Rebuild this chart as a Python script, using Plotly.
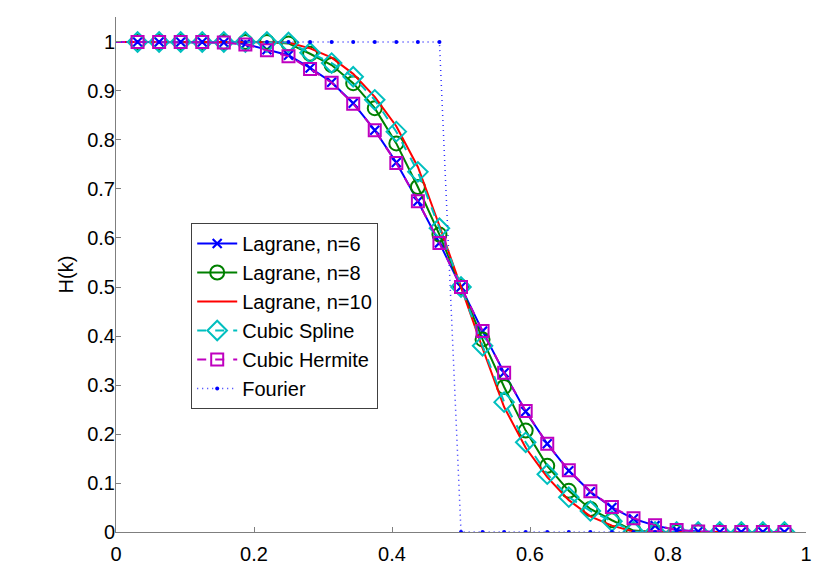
import plotly.graph_objects as go

# sample positions k/32, k = 0..31
x = [k / 32 for k in range(32)]

lag6 = [1, 1, 1, 1, 1, 0.999, 0.996, 0.984, 0.973, 0.947, 0.918, 0.875, 0.820, 0.754, 0.675, 0.590,
        0.500, 0.410, 0.325, 0.246, 0.180, 0.125, 0.082, 0.050, 0.027, 0.013, 0.004, 0.001, 0, 0, 0, 0]
lag8 = [1, 1, 1, 1, 1, 1, 1, 1, 0.997, 0.976, 0.953, 0.916, 0.865, 0.793, 0.704, 0.607,
        0.500, 0.393, 0.296, 0.207, 0.135, 0.084, 0.047, 0.024, 0.003, 0, 0, 0, 0, 0, 0, 0]
lag10 = [1, 1, 1, 1, 1, 1, 1, 1, 0.999, 0.987, 0.968, 0.935, 0.888, 0.828, 0.745, 0.625,
         0.500, 0.375, 0.255, 0.172, 0.112, 0.065, 0.032, 0.013, 0.001, 0, 0, 0, 0, 0, 0, 0]
spline = [1, 1, 1, 1, 1, 1, 1, 1, 0.999, 0.978, 0.957, 0.929, 0.882, 0.817, 0.735, 0.620,
          0.500, 0.380, 0.265, 0.183, 0.118, 0.071, 0.043, 0.022, 0.001, 0, 0, 0, 0, 0, 0, 0]
hermite = [1, 1, 1, 1, 1, 0.999, 0.995, 0.983, 0.971, 0.945, 0.917, 0.874, 0.820, 0.753, 0.675, 0.590,
           0.500, 0.410, 0.325, 0.247, 0.180, 0.126, 0.083, 0.051, 0.028, 0.014, 0.004, 0.001, 0, 0, 0, 0]
fourier = [1] * 16 + [0] * 16

names = ["Lagrane, n=6", "Lagrane, n=8", "Lagrane, n=10", "Cubic Spline", "Cubic Hermite", "Fourier"]
series = [lag6, lag8, lag10, spline, hermite, fourier]

xticks = [0, 0.2, 0.4, 0.6, 0.8, 1]
xticktext = ["0", "0.2", "0.4", "0.6", "0.8", "1"]
yticks = [i / 10 for i in range(11)]
yticktext = ["0"] + ["0.%d" % i for i in range(1, 10)] + ["1"]

styles = [
    dict(color="#0000FF", dash="solid", width=2, mode="lines+markers",
         marker=dict(symbol="x-thin-open", size=9, line=dict(width=2.2, color="#0000FF"))),
    dict(color="#008000", dash="solid", width=2, mode="lines+markers",
         marker=dict(symbol="circle-open", size=14, line=dict(width=2, color="#008000"))),
    dict(color="#FF0000", dash="solid", width=2, mode="lines", marker=None),
    dict(color="#00BFBF", dash="dash", width=2, mode="lines+markers",
         marker=dict(symbol="diamond-open", size=15, line=dict(width=2, color="#00BFBF"))),
    dict(color="#BF00BF", dash="dash", width=2, mode="lines+markers",
         marker=dict(symbol="square-open", size=12, line=dict(width=2, color="#BF00BF"))),
    dict(color="#3030FF", dash="1px,4px", width=1.5, mode="lines+markers",
         marker=dict(symbol="circle", size=4, color="#0000FF")),
]

fig = go.Figure()
for name, y, st in zip(names, series, styles):
    line = dict(color=st["color"], dash=st["dash"], width=st["width"])
    # segment from x=0 (drawn without marker)
    fig.add_trace(go.Scatter(x=x[:2], y=y[:2], mode="lines", line=line,
                             showlegend=False, hoverinfo="skip"))
    kw = dict(x=x[1:], y=y[1:], mode=st["mode"], line=line, name=name)
    if st["marker"] is not None:
        kw["marker"] = st["marker"]
    fig.add_trace(go.Scatter(**kw))

axis_col = "#7f7f7f"
# the page body adds an 8px offset, so the figure is sized/margined to compensate
fig.update_layout(
    width=812, height=559,
    margin=dict(l=108, r=14, t=9, b=35, autoexpand=False),
    paper_bgcolor="white", plot_bgcolor="white",
    font=dict(family="Liberation Sans, Arial, sans-serif", size=20, color="#000000"),
    showlegend=True,
    legend=dict(x=0.109, y=0.6, xanchor="left", yanchor="top", itemwidth=40,
                bgcolor="white", bordercolor="#404040", borderwidth=1,
                font=dict(size=20)),
    xaxis=dict(range=[0, 1], tickvals=xticks, ticktext=xticktext, automargin=False,
               showgrid=False, zeroline=False, showline=True, linecolor=axis_col,
               linewidth=1, ticks="inside", ticklen=5, tickcolor=axis_col,
               mirror=False, ticklabelstandoff=4),
    yaxis=dict(range=[0, 1.051], tickvals=yticks, ticktext=yticktext, automargin=False,
               showgrid=False, zeroline=False, showline=True, linecolor=axis_col,
               linewidth=1, ticks="inside", ticklen=5, tickcolor=axis_col,
               mirror=False, ticklabelstandoff=-4,
               title=dict(text="H(k)", font=dict(size=20), standoff=8)),
)

fig.write_html("out.html")
